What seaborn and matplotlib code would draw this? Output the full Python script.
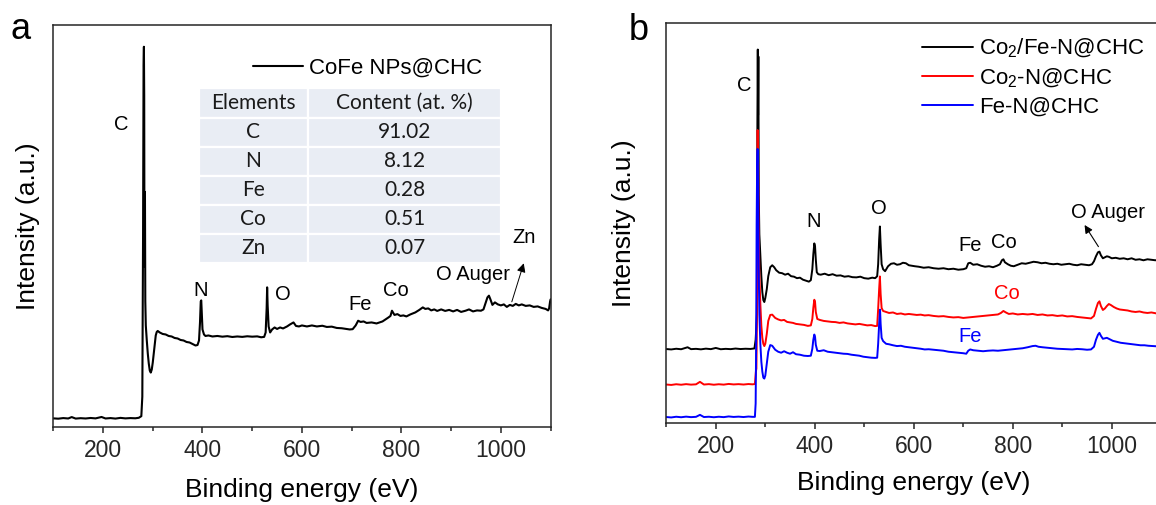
import matplotlib
matplotlib.use("Agg")
import matplotlib.pyplot as plt
import pandas as pd
import seaborn as sns
from matplotlib.ticker import FixedLocator

# ---------------- data ----------------
# (a) survey spectrum of CoFe NPs@CHC: binding energy (eV) and intensity (a.u.)
a_energy = [
    100, 110, 120, 130, 137, 145, 155, 165, 175, 185,
    197, 205, 215, 225, 235, 245, 255, 265, 272, 277,
    279, 280.5, 281.5, 282.2, 282.8, 283.3, 283.8, 284.3, 285, 286,
    288, 290, 292, 294, 296, 298, 300, 302, 304, 306,
    308, 310, 314, 320, 326, 332, 338, 344, 350, 356,
    362, 368, 374, 380, 386, 390, 393, 395, 396.5, 397.5,
    398.5, 400, 403, 406, 412, 420, 430, 440, 450, 460,
    470, 480, 490, 500, 510, 518, 524, 527, 529, 530,
    531, 533, 536, 540, 545, 550, 556, 562, 570, 576,
    583, 588, 594, 600, 610, 620, 630, 641, 650, 660,
    670, 680, 690, 696, 702, 708, 713, 718, 724, 730,
    740, 750, 756, 762, 768, 774, 778, 781, 783, 786,
    792, 798, 804, 810, 818, 828, 836, 843, 848, 854,
    860, 866, 872, 880, 888, 896, 904, 912, 920, 929,
    936, 944, 952, 960, 965, 969, 973, 976, 979, 983,
    988, 994, 1000, 1006, 1012, 1018, 1024, 1030, 1036, 1042,
    1050, 1058, 1066, 1074, 1082, 1090, 1095, 1097, 1099, 1100,
]
a_intensity = [
    8.3, 8.0, 8.6, 8.2, 9.6, 8.1, 8.5, 8.2, 8.7, 8.3,
    9.7, 8.2, 8.6, 8.1, 8.8, 8.3, 8.6, 8.4, 8.9, 10.5,
    30, 190, 360, 379, 330, 160, 225, 234, 125, 101,
    86, 73, 63, 56, 54, 57, 64, 73, 83, 91,
    94.5, 95.5, 94, 92.5, 92, 90.5, 90, 88.5, 88, 86.5,
    86, 84.5, 84, 82.5, 81, 81.5, 86, 104, 125, 126,
    114, 97, 92, 90.5, 91, 90, 90.5, 89.8, 90.3, 89.5,
    90, 89.6, 90.2, 89.8, 90.1, 89.2, 89.6, 94, 118, 139,
    121, 100, 94, 97, 99, 97.5, 99, 98, 100, 102,
    104, 100.5, 100, 101, 100, 101, 100, 100.7, 99.5, 99.8,
    98.5, 98.2, 97.5, 97, 97.3, 101, 105.7, 104.5, 105, 103.5,
    104, 103, 104, 105, 107, 109, 110.5, 115.7, 114, 111.5,
    112.3, 110.5, 111, 110, 112, 114, 116.5, 119, 117.5, 118,
    116, 117, 115.5, 117, 115.5, 116.5, 115, 116.5, 114.5, 115.7,
    117, 115, 116, 115.7, 117, 123, 129, 130.7, 127, 121.5,
    124, 122, 121, 122, 119.5, 121.5, 120.5, 122.5, 121, 122,
    120.5, 121, 119.5, 120, 118.5, 117.5, 116, 118, 125, 127,
]

# element content table
table_header = ["Elements", "Content (at. %)"]
elements = ["C", "N", "Fe", "Co", "Zn"]
contents = [91.02, 8.12, 0.28, 0.51, 0.07]

# (b) survey spectra of the three catalysts
b_black_energy = [
    100, 110, 120, 130, 143, 150, 160, 170, 180, 190,
    200, 210, 220, 230, 240, 250, 260, 270, 278, 280.5,
    282, 283.2, 284, 284.8, 285.4, 286, 286.8, 288, 290, 292,
    294, 296, 298, 300, 303, 306, 310, 314, 318, 322,
    328, 334, 340, 346, 352, 358, 364, 370, 376, 382,
    388, 392, 395, 397, 399, 400.5, 402, 404, 407, 412,
    420, 428, 436, 444, 452, 460, 468, 476, 484, 492,
    500, 508, 516, 522, 526, 528, 530, 531.5, 533, 535,
    538, 542, 548, 554, 560, 566, 572, 578, 584, 590,
    596, 602, 610, 620, 630, 640, 650, 660, 670, 680,
    690, 700, 706, 710, 714, 720, 728, 736, 744, 752,
    760, 768, 774, 778, 781, 784, 790, 796, 802, 810,
    818, 826, 834, 842, 850, 858, 866, 874, 882, 890,
    898, 906, 914, 922, 930, 938, 946, 954, 960, 964,
    968, 972, 975, 978, 982, 986, 990, 994, 1000, 1008,
    1016, 1024, 1032, 1040, 1048, 1056, 1064, 1072, 1080, 1088,
    1096, 1100,
]
b_black_intensity = [
    74.7, 74.3, 75.0, 74.5, 76.5, 74.6, 74.9, 74.4, 75.1, 74.6,
    75.8, 74.5, 74.9, 74.6, 75.2, 74.7, 75.0, 74.8, 75.3, 84,
    99, 110, 300, 376, 310, 369, 230, 190, 168, 148,
    132, 124, 122, 126, 135, 148, 157, 159, 157, 154,
    151.5, 151, 149.5, 150.5, 148, 147.5, 146, 146.5, 144.5, 143.5,
    142.5, 144, 155, 170, 181, 178, 165, 152, 150, 149.5,
    150.5, 149, 150, 148.5, 148.8, 147.5, 148, 147, 146.8, 147.5,
    146, 145.5, 146.5, 146, 148, 160, 185, 198, 180, 160,
    155, 153, 158, 160.5, 161, 159.5, 160, 161.5, 161, 159,
    158.5, 158, 157.5, 156.5, 157, 156, 155.5, 156, 155, 155.5,
    154.5, 155, 156, 161, 161.5, 159.5, 160, 158.5, 157.5, 158,
    157, 158.5, 160, 164, 165, 162, 160, 158.5, 158, 159.5,
    161, 160.5, 161.5, 162.5, 162, 161, 161.5, 160.5, 160, 160.5,
    159.5, 160, 160.5, 159.5, 159, 160, 159.5, 159, 160, 163,
    168, 172, 172.7, 169, 166, 167, 168, 167.5, 166, 166.5,
    165.5, 166, 165, 166, 164.5, 165, 164, 165, 164.5, 164,
    164.5, 164,
]

b_red_energy = [
    100, 110, 120, 130, 140, 150, 160, 168, 176, 186,
    196, 206, 216, 226, 236, 246, 256, 266, 274, 279,
    281, 282, 283, 284.5, 285.5, 286.5, 288, 290, 292, 294,
    296, 298, 300, 303, 306, 310, 314, 320, 326, 332,
    338, 344, 350, 356, 362, 370, 378, 386, 392, 395,
    397, 399, 400.5, 402, 405, 410, 418, 426, 434, 442,
    450, 458, 466, 474, 482, 490, 498, 506, 514, 522,
    526, 528, 530, 531.5, 533, 535, 538, 544, 550, 558,
    566, 574, 582, 590, 598, 606, 614, 622, 630, 640,
    650, 660, 670, 680, 690, 700, 710, 720, 730, 740,
    750, 760, 770, 776, 781, 786, 792, 800, 810, 820,
    830, 840, 850, 860, 870, 880, 890, 900, 910, 920,
    930, 940, 950, 958, 964, 968, 972, 975, 978, 982,
    986, 990, 994, 998, 1004, 1010, 1016, 1024, 1032, 1040,
    1048, 1056, 1064, 1072, 1080, 1090, 1100,
]
b_red_intensity = [
    39.0, 38.6, 39.3, 38.8, 39.4, 38.9, 39.2, 41.7, 39.0, 39.4,
    38.8, 39.3, 38.9, 39.6, 39.1, 39.4, 39.0, 39.5, 39.2, 39.5,
    52, 55, 100, 295, 260, 200, 150, 120, 98, 86,
    80, 77.7, 80, 90, 103, 109, 109.3, 106, 104.5, 103.5,
    104, 102, 101.5, 101, 100, 99.5, 99, 98, 98.5, 105,
    116, 124.3, 122, 112, 105, 104, 103, 102.5, 102, 101.8,
    101, 101.5, 100.5, 100, 99.5, 100, 99.2, 98.5, 98.8, 97.8,
    98, 115, 135, 147.7, 130, 116, 113, 112, 111, 111.5,
    110, 110.5, 109.5, 110, 109.5, 109, 109.3, 108.5, 108.8, 108,
    107.5, 107.8, 107, 106.5, 106.8, 106, 106.5, 107, 107.5, 108,
    108.5, 109, 109.5, 111, 113, 111.5, 110, 110.5, 109.5, 110,
    109.5, 110, 109, 109.5, 108.5, 108.8, 108, 108.5, 107.5, 107.8,
    107, 106.5, 106, 105.5, 108, 115, 121, 122.7, 118, 114,
    115.5, 118, 120, 119, 117, 115.5, 114.5, 114, 113.5, 112.5,
    112, 112.5, 111.5, 111, 111.5, 110.5, 110,
]

b_blue_energy = [
    100, 110, 120, 130, 140, 150, 160, 168, 176, 186,
    196, 206, 216, 226, 236, 246, 256, 266, 274, 279,
    280.5, 281.5, 282.5, 283.5, 284.5, 285.5, 286.5, 288, 290, 292,
    294, 296, 298, 300, 303, 306, 310, 314, 320, 326,
    332, 338, 344, 350, 356, 362, 370, 378, 386, 392,
    395, 397, 399, 400.5, 402, 405, 410, 418, 426, 434,
    442, 450, 458, 466, 474, 482, 490, 498, 506, 514,
    522, 526, 528, 530, 531.8, 533, 535, 538, 544, 550,
    558, 566, 574, 582, 590, 598, 606, 614, 622, 630,
    640, 650, 660, 670, 680, 690, 700, 706, 710, 714,
    720, 730, 740, 750, 760, 770, 780, 790, 800, 810,
    820, 830, 840, 846, 852, 860, 870, 880, 890, 900,
    910, 920, 930, 940, 950, 958, 964, 968, 972, 975,
    978, 982, 986, 990, 996, 1002, 1010, 1018, 1026, 1034,
    1042, 1050, 1058, 1066, 1074, 1082, 1090, 1100,
]
b_blue_intensity = [
    6.3, 5.9, 6.6, 6.1, 6.7, 6.2, 6.5, 8.5, 6.3, 6.6,
    6.1, 6.6, 6.2, 6.9, 6.4, 6.7, 6.3, 6.8, 6.5, 6.5,
    20, 80, 200, 260, 276, 240, 160, 110, 80, 62,
    52, 46, 45, 48, 60, 72, 78.7, 78, 74, 72,
    71, 72.5, 71, 70, 71.5, 69.5, 69, 68, 67.7, 68,
    75, 84, 89.3, 87, 79, 73, 72.7, 73.5, 72, 71.5,
    71, 70.5, 70, 69.8, 69, 68.5, 68, 67, 66.5, 66,
    65.8, 66, 80, 100, 114.3, 100, 86, 82.7, 80, 79.5,
    78.5, 77.7, 78, 77, 76.5, 76, 75.5, 75, 74.3, 74.5,
    74, 73.5, 73, 72, 71.5, 71, 70.5, 70, 73, 74.3,
    73.5, 73, 72.5, 73, 73.3, 73, 73.5, 74, 74.5, 75,
    75.5, 76.5, 77.7, 78, 77, 76.5, 76, 75.5, 75, 74.8,
    74.5, 74.3, 74.8, 74.5, 74, 74.3, 77, 84, 89, 91,
    88, 85, 85.5, 86, 84.5, 83, 82, 81, 80.5, 80,
    79.5, 79, 78.5, 78.5, 78, 77.7, 77.5, 77,
]

b_samples = [r"Co$\mathregular{_2}$/Fe-N@CHC", r"Co$\mathregular{_2}$-N@CHC", "Fe-N@CHC"]
b_colors = ["black", "#FF0000", "#0000FF"]

# ---------------- frames ----------------
df_a = pd.DataFrame({"energy": a_energy, "intensity": a_intensity})
df_b = pd.concat([
    pd.DataFrame({"energy": e, "intensity": i, "sample": s})
    for e, i, s in zip([b_black_energy, b_red_energy, b_blue_energy],
                       [b_black_intensity, b_red_intensity, b_blue_intensity],
                       b_samples)
], ignore_index=True)

# ---------------- style ----------------
sns.set_style("ticks")
plt.rcParams.update({
    "font.family": ["Liberation Sans", "DejaVu Sans"],
    "mathtext.fontset": "custom",
    "mathtext.rm": "Liberation Sans",
    "mathtext.it": "Liberation Sans:italic",
    "mathtext.bf": "Liberation Sans:bold",
    "axes.edgecolor": "#262626",
    "axes.linewidth": 1.1,
    "text.color": "black",
    "axes.labelcolor": "black",
})

W, H = 1156, 505
fig = plt.figure(figsize=(W / 100, H / 100), dpi=100)
ax_a = fig.add_axes([53.3 / W, (H - 426.7) / H, 497.3 / W, 401.7 / H])
ax_b = fig.add_axes([666.3 / W, (H - 423.3) / H, 495.0 / W, 400.6 / H])


def style_axis(ax, ytop):
    ax.set_xlim(100, 1100)
    ax.set_ylim(0, ytop)
    ax.set_yticks([])
    ax.xaxis.set_major_locator(FixedLocator([200, 400, 600, 800, 1000]))
    ax.xaxis.set_minor_locator(FixedLocator([100, 300, 500, 700, 900, 1100]))
    ax.tick_params(axis="x", which="major", direction="out", length=4.6,
                   width=1.1, color="#262626", labelsize=16.5, pad=4)
    ax.tick_params(axis="x", which="minor", direction="out", length=2.6,
                   width=1.1, color="#262626")
    for sp in ax.spines.values():
        sp.set_visible(True)
        sp.set_color("#262626")
        sp.set_linewidth(1.1)


# ---------------- panel a ----------------
sns.lineplot(data=df_a, x="energy", y="intensity", ax=ax_a, color="black",
             linewidth=1.5, estimator=None, sort=False, legend=False)
style_axis(ax_a, 400.7)
ax_a.set_xlabel("Binding energy (eV)", fontsize=19, va="center")
ax_a.set_ylabel("Intensity (a.u.)", fontsize=19, va="center")
ax_a.xaxis.set_label_coords(0.5, -0.157)
ax_a.yaxis.set_label_coords(-0.051, 0.5)
ax_a.legend(handles=[ax_a.lines[0]], labels=["CoFe NPs@CHC"], loc="center left",
            bbox_to_anchor=(0.402, 0.892), frameon=False, fontsize=16,
            handlelength=2.25, handletextpad=0.28, borderpad=0, borderaxespad=0)

peak_labels_a = [("C", 237.6, 301.7), ("N", 397, 136.2), ("O", 561, 132.2),
                 ("Fe", 716, 121.8), ("Co", 788.5, 135.8),
                 ("O Auger", 944, 151.9), ("Zn", 1045.7, 188.4)]
for txt, x, y in peak_labels_a:
    ax_a.text(x, y, txt, fontsize=14.5, ha="center", va="center")
ax_a.annotate("", xy=(1046, 163), xytext=(1022, 124.6),
              arrowprops=dict(arrowstyle="-|>", color="black", lw=0.7,
                              mutation_scale=13, shrinkA=0, shrinkB=0))

cell_rows = [[el, f"{v:.2f}"] for el, v in zip(elements, contents)]
tbl = ax_a.table(cellText=cell_rows, colLabels=table_header, cellLoc="center",
                 colWidths=[0.361, 0.639], bbox=[0.292, 0.4075, 0.609, 0.4345])
tbl.auto_set_font_size(False)
for (r, c), cell in tbl.get_celld().items():
    cell.set_facecolor("#E9EDF4")
    cell.set_edgecolor("white")
    cell.set_linewidth(1.6)
    cell.get_text().set_fontfamily("Lato")
    cell.get_text().set_fontsize(15)
    cell.get_text().set_color("#1a1a1a")

# ---------------- panel b ----------------
sns.lineplot(data=df_b, x="energy", y="intensity", hue="sample",
             hue_order=b_samples, palette=dict(zip(b_samples, b_colors)),
             ax=ax_b, linewidth=1.4, estimator=None, sort=False, legend=False)
style_axis(ax_b, 403)
ax_b.set_xlabel("Binding energy (eV)", fontsize=19, va="center")
ax_b.set_ylabel("Intensity (a.u.)", fontsize=19, va="center")
ax_b.xaxis.set_label_coords(0.5, -0.149)
ax_b.yaxis.set_label_coords(-0.0855, 0.5)
ax_b.legend(handles=ax_b.lines[:3], labels=b_samples, loc="upper left",
            bbox_to_anchor=(0.517, 0.965), frameon=False, fontsize=16,
            handlelength=2.3, handletextpad=0.25, labelspacing=0.3,
            borderpad=0, borderaxespad=0)

peak_labels_b = [("C", 257, 339.7, "black"), ("N", 398, 203.1, "black"),
                 ("O", 529, 216.4, "black"), ("Fe", 713, 178.9, "black"),
                 ("Co", 781, 182.2, "black"), ("O Auger", 992, 212.5, "black"),
                 ("Co", 788, 130.6, "#FF0000"), ("Fe", 713, 87.5, "#0000FF")]
for txt, x, y, col in peak_labels_b:
    ax_b.text(x, y, txt, fontsize=14.5, ha="center", va="center", color=col)
ax_b.annotate("", xy=(945, 199.5), xytext=(973, 177.7),
              arrowprops=dict(arrowstyle="-|>", color="black", lw=0.8,
                              mutation_scale=12, shrinkA=0, shrinkB=0))

# panel letters
fig.text(10.5 / W, 1 - 39.3 / H, "a", fontsize=26, ha="left", va="baseline")
fig.text(629 / W, 1 - 40 / H, "b", fontsize=26, ha="left", va="baseline")

fig.savefig("out.png", dpi=100)
